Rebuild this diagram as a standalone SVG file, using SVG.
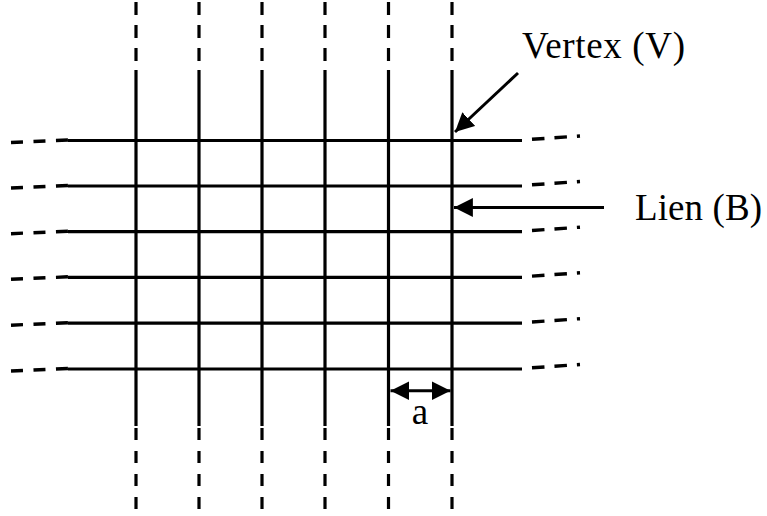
<svg xmlns="http://www.w3.org/2000/svg" width="767" height="516" viewBox="0 0 767 516">
<style>
.s{stroke:#000;stroke-width:3.2;fill:none}
.dv{stroke:#000;stroke-width:3.2;fill:none}
.dl{stroke:#000;stroke-width:3.4;fill:none;stroke-dasharray:12 10.5}
.dr{stroke:#000;stroke-width:3.4;fill:none;stroke-dasharray:12.5 10}
.a{stroke:#000;stroke-width:3;fill:none}
.t{font-family:"Liberation Serif","Times New Roman",serif;font-size:37px;fill:#000}
</style>
<defs>
<marker id="ah" viewBox="0 0 10 10" refX="10" refY="5" markerWidth="6.3" markerHeight="6.3" markerUnits="strokeWidth" orient="auto-start-reverse">
<path d="M0,0 L10,5 L0,10 Z" fill="#000"/>
</marker>
</defs>
<g id="lattice">
<g id="verticals">
<line class="s" x1="136" y1="70" x2="136" y2="426"/>
<line class="s" x1="199" y1="70" x2="199" y2="426"/>
<line class="s" x1="262" y1="70" x2="262" y2="426"/>
<line class="s" x1="325" y1="70" x2="325" y2="426"/>
<line class="s" x1="388.5" y1="70" x2="388.5" y2="426"/>
<line class="s" x1="452" y1="70" x2="452" y2="426"/>
<g style="stroke-dasharray:13 10">
<line class="dv" x1="136" y1="2" x2="136" y2="61"/>
<line class="dv" x1="199" y1="2" x2="199" y2="61"/>
<line class="dv" x1="262" y1="2" x2="262" y2="61"/>
<line class="dv" x1="325" y1="2" x2="325" y2="61"/>
<line class="dv" x1="388.5" y1="2" x2="388.5" y2="61"/>
<line class="dv" x1="452" y1="2" x2="452" y2="61"/>
</g>
<g style="stroke-dasharray:12 11">
<line class="dv" x1="136" y1="428" x2="136" y2="509"/>
<line class="dv" x1="199" y1="428" x2="199" y2="509"/>
<line class="dv" x1="262" y1="428" x2="262" y2="509"/>
<line class="dv" x1="325" y1="428" x2="325" y2="509"/>
<line class="dv" x1="388.5" y1="428" x2="388.5" y2="509"/>
<line class="dv" x1="452" y1="428" x2="452" y2="509"/>
</g>
</g>
<g id="horizontals">
<line class="s" x1="68" y1="140.5" x2="522" y2="140.5"/>
<line class="s" x1="68" y1="186" x2="522" y2="186"/>
<line class="s" x1="68" y1="231.7" x2="522" y2="231.7"/>
<line class="s" x1="68" y1="277.3" x2="522" y2="277.3"/>
<line class="s" x1="68" y1="323.2" x2="522" y2="323.2"/>
<line class="s" x1="68" y1="369" x2="522" y2="369"/>
<line class="dl" x1="11" y1="142.5" x2="68" y2="140"/>
<line class="dl" x1="11" y1="188" x2="68" y2="185.5"/>
<line class="dl" x1="11" y1="233.7" x2="68" y2="231.2"/>
<line class="dl" x1="11" y1="279.3" x2="68" y2="276.8"/>
<line class="dl" x1="11" y1="325.2" x2="68" y2="322.7"/>
<line class="dl" x1="11" y1="371" x2="68" y2="368.5"/>
<line class="dr" x1="532" y1="139.3" x2="580" y2="136"/>
<line class="dr" x1="532" y1="184.8" x2="580" y2="181.5"/>
<line class="dr" x1="532" y1="230.5" x2="580" y2="227.2"/>
<line class="dr" x1="532" y1="276.1" x2="580" y2="272.8"/>
<line class="dr" x1="532" y1="322" x2="580" y2="318.7"/>
<line class="dr" x1="532" y1="367.8" x2="580" y2="364.5"/>
</g>
</g>
<g id="connectors">
<line class="a" x1="518" y1="73" x2="455" y2="132" marker-end="url(#ah)"/>
<line class="a" x1="604" y1="207.5" x2="454" y2="207.5" marker-end="url(#ah)"/>
<line class="a" x1="390.5" y1="390.7" x2="450.5" y2="390.7" marker-start="url(#ah)" marker-end="url(#ah)"/>
</g>
<g id="label-vertex"><text class="t" x="522" y="58.3" textLength="163">Vertex (V)</text></g>
<g id="label-lien"><text class="t" x="635" y="219.5" textLength="127">Lien (B)</text></g>
<g id="label-a"><text class="t" x="420" y="423.5" text-anchor="middle">a</text></g>
</svg>
